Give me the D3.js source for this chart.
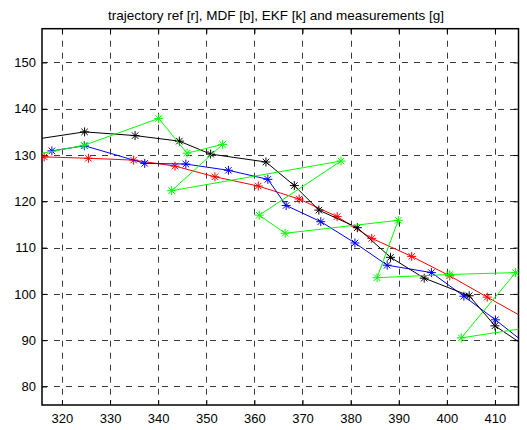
<!doctype html>
<html lang="en">
<head>
<meta charset="UTF-8">
<title>trajectory</title>
<style>
  body { margin: 0; background: #fff; }
  text { font-family: "Liberation Sans", Arial, sans-serif; fill: #000; }
</style>
</head>
<body>
<div class="container"></div>
<script src="https://d3js.org/d3.v7.min.js"></script>
<script>
  // tick labels
  const xTicks = [320, 330, 340, 350, 360, 370, 380, 390, 400, 410];
  const yTicks = [80, 90, 100, 110, 120, 130, 140, 150];

  // reference trajectory [r]
  const refX = [316.3, 325.5, 334.9, 343.5, 351.8, 360.8, 369.3, 377.2, 384.4, 392.7, 400.6, 408.4, 416.3];
  const refY = [129.6, 129.3, 128.9, 127.6, 125.3, 123.3, 120.5, 116.7, 112.0, 108.1, 103.9, 99.3, 94.7];

  // MDF estimate [b]
  const mdfX = [317.9, 324.7, 337.2, 345.75, 354.6, 362.8, 366.6, 373.8, 380.9, 387.6, 396.8, 403.55, 410.1, 417.3];
  const mdfY = [130.9, 132.0, 128.2, 128.05, 126.7, 124.75, 119.1, 115.6, 111.0, 106.2, 104.6, 99.5, 94.4, 88.5];

  // EKF estimate [k]
  const ekfX = [314.45, 324.7, 335.2, 344.4, 350.9, 362.4, 368.3, 373.4, 381.4, 388.3, 395.3, 404.65, 410.0, 416.9];
  const ekfY = [133.4, 135.0, 134.2, 133.0, 130.2, 128.5, 123.4, 118.1, 114.3, 107.9, 103.4, 99.6, 93.1, 88.3];

  // measurements [g]
  const measX = [314.45, 324.6, 340.1, 346.0, 353.4, 342.8, 378.0, 361.0, 366.4, 389.9, 385.5, 400.6, 414.3, 403.0, 419.4];
  const measY = [130.1, 132.1, 137.9, 130.4, 132.3, 122.3, 128.7, 117.0, 113.1, 115.9, 103.5, 104.2, 104.6, 90.5, 93.1];

  const W = 527, H = 430;
  const LEFT = 42, RIGHT = 518.5, TOP = 28.7, BOTTOM = 405;
  const TICK = 5;

  const svg = d3.select('.container')
    .append('svg')
    .attr('width', W)
    .attr('height', H);

  const x = d3.scaleLinear().domain([315.85, 414.9]).range([LEFT, RIGHT]);
  const y = d3.scaleLinear().domain([76.0, 157.29]).range([BOTTOM, TOP]);

  svg.append('defs').append('clipPath').attr('id', 'plot-clip')
    .append('rect')
    .attr('x', LEFT).attr('y', TOP)
    .attr('width', RIGHT - LEFT).attr('height', BOTTOM - TOP);

  // grid
  const grid = svg.append('g')
    .attr('stroke', '#3a3a3a')
    .attr('stroke-width', 1)
    .attr('stroke-dasharray', '6,6');
  grid.selectAll('.gx').data(xTicks).enter().append('line')
    .attr('x1', d => Math.round(x(d)) + 0.5).attr('x2', d => Math.round(x(d)) + 0.5)
    .attr('y1', TOP).attr('y2', BOTTOM);
  grid.selectAll('.gy').data(yTicks).enter().append('line')
    .attr('y1', d => Math.round(y(d)) + 0.5).attr('y2', d => Math.round(y(d)) + 0.5)
    .attr('x1', LEFT).attr('x2', RIGHT);

  // axes, ticks pointing inside
  const xAxisB = d3.axisBottom(x).tickValues(xTicks).tickSize(-TICK).tickPadding(9);
  const xAxisT = d3.axisTop(x).tickValues(xTicks).tickSize(-TICK).tickFormat('');
  const yAxisL = d3.axisLeft(y).tickValues(yTicks).tickSize(-TICK).tickPadding(6);
  const yAxisR = d3.axisRight(y).tickValues(yTicks).tickSize(-TICK).tickFormat('');

  svg.append('g').attr('transform', `translate(0,${BOTTOM})`).call(xAxisB);
  svg.append('g').attr('transform', `translate(0,${TOP})`).call(xAxisT);
  svg.append('g').attr('transform', `translate(${LEFT},0)`).call(yAxisL);
  svg.append('g').attr('transform', `translate(${RIGHT},0)`).call(yAxisR);

  svg.selectAll('.domain').remove();
  svg.selectAll('.tick line').attr('stroke', '#000');
  svg.selectAll('.tick text')
    .style('font-family', '"Liberation Sans", Arial, sans-serif')
    .style('font-size', '13px')
    .attr('fill', '#000');

  // box
  svg.append('rect')
    .attr('x', LEFT).attr('y', TOP)
    .attr('width', RIGHT - LEFT).attr('height', BOTTOM - TOP)
    .attr('fill', 'none').attr('stroke', '#000').attr('stroke-width', 1.5);

  const plot = svg.append('g').attr('clip-path', 'url(#plot-clip)');

  const series = [
    { xs: refX, ys: refY, color: '#ff0000' },
    { xs: mdfX, ys: mdfY, color: '#0000ff' },
    { xs: ekfX, ys: ekfY, color: '#000000' },
    { xs: measX, ys: measY, color: '#00ff00' }
  ];

  const line = d3.line().x(d => x(d[0])).y(d => y(d[1]));

  // asterisk marker: plus + cross
  const star = (r) => {
    const k = r * 0.72;
    return `M${-r},0L${r},0M0,${-r}L0,${r}M${-k},${-k}L${k},${k}M${-k},${k}L${k},${-k}`;
  };

  series.forEach(s => {
    const pts = s.xs.map((v, i) => [v, s.ys[i]]);
    const g = plot.append('g');
    g.append('path')
      .attr('d', line(pts))
      .attr('fill', 'none')
      .attr('stroke', s.color)
      .attr('stroke-width', 1);
    g.selectAll('path.m').data(pts).enter().append('path')
      .attr('class', 'm')
      .attr('transform', d => `translate(${x(d[0])},${y(d[1])})`)
      .attr('d', star(4.5))
      .attr('fill', 'none')
      .attr('stroke', s.color)
      .attr('stroke-width', 1);
  });

  // title
  svg.append('text')
    .attr('x', 276)
    .attr('y', 20)
    .attr('text-anchor', 'middle')
    .style('font-size', '13.5px')
    .text('trajectory ref [r], MDF [b], EKF [k] and measurements [g]');
</script>
</body>
</html>
